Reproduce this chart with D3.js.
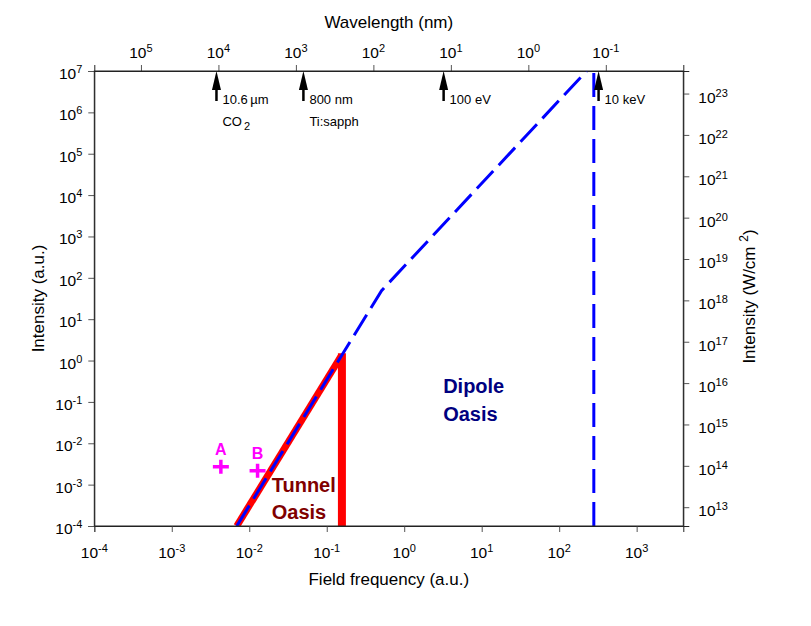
<!DOCTYPE html>
<html>
<head>
<meta charset="utf-8">
<script src="https://cdn.jsdelivr.net/npm/d3@7"></script>
<style>
  body { margin: 0; background: #fff; }
  svg { font-family: "Liberation Sans", Arial, Helvetica, sans-serif; }
</style>
</head>
<body>
<div id="chart"></div>
<script>
// Laser oases chart: field frequency vs intensity, log-log
const bottomTickExps = [-4, -3, -2, -1, 0, 1, 2, 3];
const leftTickExps = [-4, -3, -2, -1, 0, 1, 2, 3, 4, 5, 6, 7];
const rightTickExps = [13, 14, 15, 16, 17, 18, 19, 20, 21, 22, 23];
const topTickExps = [5, 4, 3, 2, 1, 0, -1];

// frequency (a.u.), intensity (a.u.)
const tunnelLine = [[6.9e-3, 1e-4], [0.152, 1.25]];
const tunnelBar = [[0.157, 1e-4], [0.157, 1.5]];
const dipoleEdge = [[6.9e-3, 1e-4], [0.51, 49], [226, 1e7]];
const cutoffLine = [[280, 1e-4], [280, 1e7]];

const markerNames = ["A", "B"];
const markerFreq = [4.3e-3, 0.0128];
const markerInt = [2.7e-3, 2.17e-3];

// wavelength (nm) markers on the top axis
const arrowLambda = [10600, 800, 12.4, 0.124];
const arrowLabel = ["10.6\u2009\u00b5m", "800 nm", "100 eV", "10 keV"];
const arrowSub = [["CO", "2"], ["Ti:sapph", ""], null, null];

const AU_INTENSITY = 3.51e16; // W/cm^2 per a.u.
const LAMBDA_K = 40;          // nm * a.u.

(function () {
  const W = 811, H = 626;
  const margin = { top: 71, right: 127.7, bottom: 100, left: 94.3 };
  const width = W - margin.left - margin.right;
  const height = H - margin.top - margin.bottom;

  const svg = d3.select("#chart").append("svg")
    .attr("width", W).attr("height", H);
  const g = svg.append("g")
    .attr("transform", `translate(${margin.left},${margin.top})`);

  const x = d3.scaleLog().domain([1e-4, 4000]).range([0, width]);
  const y = d3.scaleLog().domain([1e-4, 1e7]).range([height, 0]);
  const yR = d3.scaleLog().domain([1e-4 * AU_INTENSITY, 1e7 * AU_INTENSITY]).range([height, 0]);
  const xTop = d3.scaleLog().domain([LAMBDA_K / 1e-4, LAMBDA_K / 4000]).range([0, width]);

  const minors = s => s.ticks(200).filter(v => Math.abs(Math.log10(v) - Math.round(Math.log10(v))) > 1e-6);

  function drawAxis(axisFn, scale, exps, transform) {
    const majors = exps.map(e => Math.pow(10, e));
    const ga = g.append("g").attr("transform", transform || null);
    ga.call(axisFn(scale).tickValues(minors(scale)).tickSize(3).tickFormat(""));
    ga.call(axisFn(scale).tickValues(majors).tickSize(6).tickFormat(""));
    ga.selectAll(".domain").attr("stroke", "#222");
    ga.selectAll(".tick line").attr("stroke", "#555");
    return ga;
  }

  function expLabel(sel, e, opts) {
    const t = sel.append("text")
      .attr("x", opts.x).attr("y", opts.y)
      .attr("text-anchor", opts.anchor)
      .attr("font-size", 15.5).attr("fill", "#000");
    t.append("tspan").text("10");
    t.append("tspan").attr("dy", -6).attr("font-size", 11)
      .text(e < 0 ? "-" + Math.abs(e) : e);
    return t;
  }

  // Axes
  drawAxis(d3.axisBottom, x, bottomTickExps, `translate(0,${height})`);
  drawAxis(d3.axisLeft, y, leftTickExps);
  drawAxis(d3.axisRight, yR, rightTickExps, `translate(${width},0)`);
  drawAxis(d3.axisTop, xTop, topTickExps);

  bottomTickExps.forEach(e => expLabel(g, e, { x: x(Math.pow(10, e)), y: height + 32, anchor: "middle" }));
  leftTickExps.forEach(e => expLabel(g, e, { x: -12, y: y(Math.pow(10, e)) + 8, anchor: "end" }));
  rightTickExps.forEach(e => expLabel(g, e, { x: width + 15, y: yR(Math.pow(10, e)) + 9, anchor: "start" }));
  topTickExps.forEach(e => expLabel(g, e, { x: xTop(Math.pow(10, e)), y: -13, anchor: "middle" }));

  // Axis titles
  g.append("text").attr("x", width / 2).attr("y", -43)
    .attr("text-anchor", "middle").attr("font-size", 17).text("Wavelength (nm)");
  g.append("text").attr("x", width / 2).attr("y", height + 59)
    .attr("text-anchor", "middle").attr("font-size", 17).text("Field frequency (a.u.)");
  g.append("text").attr("transform", `translate(${-50},${height / 2}) rotate(-90)`)
    .attr("text-anchor", "middle").attr("font-size", 17).text("Intensity (a.u.)");
  const rt = g.append("text").attr("transform", `translate(${width + 72},${height / 2 - 2}) rotate(-90)`)
    .attr("text-anchor", "middle").attr("font-size", 17);
  rt.append("tspan").text("Intensity (W/cm ");
  rt.append("tspan").attr("dy", -7).attr("font-size", 12).text("2");
  rt.append("tspan").attr("dy", 7).text(")");

  // Clip
  svg.append("defs").append("clipPath").attr("id", "plot-clip")
    .append("rect").attr("width", width).attr("height", height);
  const plot = g.append("g").attr("clip-path", "url(#plot-clip)");

  const line = d3.line().x(d => x(d[0])).y(d => y(d[1]));

  // Tunnel oasis boundary (red)
  plot.append("path").datum(tunnelLine).attr("d", line)
    .attr("fill", "none").attr("stroke", "#ff0000").attr("stroke-width", 7);
  plot.append("path").datum(tunnelBar).attr("d", line)
    .attr("fill", "none").attr("stroke", "#ff0000").attr("stroke-width", 8);

  // Dipole oasis boundary (blue dashed)
  plot.append("path").datum(dipoleEdge).attr("d", line)
    .attr("fill", "none").attr("stroke", "#0000ff").attr("stroke-width", 3)
    .attr("stroke-dasharray", "24 8");
  plot.append("path").datum(cutoffLine).attr("d", line)
    .attr("fill", "none").attr("stroke", "#0000ff").attr("stroke-width", 3)
    .attr("stroke-dasharray", "24 9");

  // Markers A, B
  markerNames.forEach((name, i) => {
    const cx = x(markerFreq[i]), cy = y(markerInt[i]);
    g.append("path")
      .attr("d", `M${cx - 8},${cy}H${cx + 8}M${cx},${cy - 7}V${cy + 7}`)
      .attr("stroke", "#ff00ff").attr("stroke-width", 3.5).attr("fill", "none");
    g.append("text").attr("x", cx).attr("y", cy - 12)
      .attr("text-anchor", "middle").attr("font-size", 16).attr("font-weight", "bold")
      .attr("fill", "#ff00ff").text(name);
  });

  // Oasis labels
  const tun = g.append("text").attr("x", x(0.0195)).attr("y", y(6.7e-4))
    .attr("font-size", 20).attr("font-weight", "bold").attr("fill", "#800000");
  tun.append("tspan").text("Tunnel");
  tun.append("tspan").attr("x", x(0.0195)).attr("dy", 27).text("Oasis");

  const dip = g.append("text").attr("x", x(3.18)).attr("y", y(0.167))
    .attr("font-size", 20).attr("font-weight", "bold").attr("fill", "#000080");
  dip.append("tspan").text("Dipole");
  dip.append("tspan").attr("x", x(3.18)).attr("dy", 28).text("Oasis");

  // Arrows on top axis
  arrowLambda.forEach((lam, i) => {
    const ax = xTop(lam);
    g.append("path")
      .attr("d", `M${ax},0L${ax - 4.5},19L${ax + 4.5},19Z`)
      .attr("fill", "#000");
    g.append("line").attr("x1", ax).attr("x2", ax).attr("y1", 15).attr("y2", 30)
      .attr("stroke", "#000").attr("stroke-width", 2.5);
    g.append("text").attr("x", ax + 6).attr("y", 32.5)
      .attr("font-size", 13).text(arrowLabel[i]);
    const sub = arrowSub[i];
    if (sub) {
      const st = g.append("text").attr("x", ax + 6).attr("y", 54.5).attr("font-size", 13);
      st.append("tspan").text(sub[0]);
      if (sub[1]) st.append("tspan").attr("dx", 2).attr("dy", 4).attr("font-size", 11).text(sub[1]);
    }
  });

  // Frame
  g.append("rect").attr("width", width).attr("height", height)
    .attr("fill", "none").attr("stroke", "#222").attr("stroke-width", 1);
})();
</script>
</body>
</html>
